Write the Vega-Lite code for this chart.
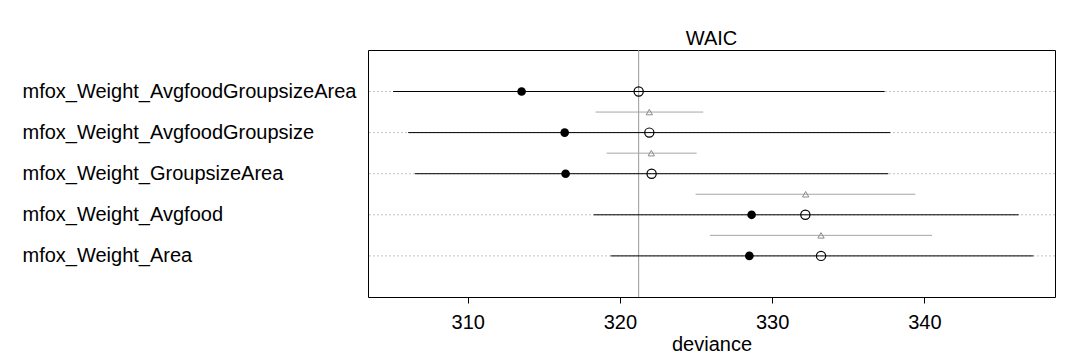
{
  "$schema": "https://vega.github.io/schema/vega-lite/v6.json",
  "width": 687,
  "height": 247,
  "autosize": {"type": "none"},
  "padding": {"left": 368, "top": 50, "right": 25, "bottom": 63},
  "background": "white",
  "config": {
    "font": "Liberation Sans",
    "view": {"stroke": "black", "strokeWidth": 1},
    "axis": {"grid": false, "domain": false, "labelFont": "Liberation Sans", "titleFont": "Liberation Sans"},
    "axisX": {"tickColor": "black", "tickSize": 6, "labelFontSize": 20, "labelColor": "black", "labelPadding": 9, "titleFontSize": 20, "titleFontWeight": "normal", "titleColor": "black", "titlePadding": 2},
    "axisY": {"ticks": false, "tickSize": 0, "labelFontSize": 20, "labelColor": "black", "labelAlign": "left", "labelBaseline": "middle", "labelPadding": 346, "labelLimit": 0, "title": null}
  },
  "title": {"text": "WAIC", "fontSize": 20, "fontWeight": "normal", "color": "black", "offset": -15, "baseline": "alphabetic", "font": "Liberation Sans"},
  "datasets": {
    "models": [
      {"model": "mfox_Weight_AvgfoodGroupsizeArea", "pos": 5, "dev": 313.54, "waic": 321.23, "lo": 305.10, "hi": 337.39},
      {"model": "mfox_Weight_AvgfoodGroupsize", "pos": 4, "dev": 316.37, "waic": 321.93, "lo": 306.09, "hi": 337.76},
      {"model": "mfox_Weight_GroupsizeArea", "pos": 3, "dev": 316.43, "waic": 322.08, "lo": 306.53, "hi": 337.63},
      {"model": "mfox_Weight_Avgfood", "pos": 2, "dev": 328.65, "waic": 332.18, "lo": 318.27, "hi": 346.19},
      {"model": "mfox_Weight_Area", "pos": 1, "dev": 328.50, "waic": 333.21, "lo": 319.39, "hi": 347.16}
    ],
    "diffs": [
      {"pos": 4.5, "waic": 321.93, "lo": 318.40, "hi": 325.47},
      {"pos": 3.5, "waic": 322.06, "lo": 319.13, "hi": 325.04},
      {"pos": 2.5, "waic": 332.20, "lo": 324.97, "hi": 339.41},
      {"pos": 1.5, "waic": 333.21, "lo": 325.91, "hi": 340.50}
    ]
  },
  "layer": [
    {
      "data": {"name": "models"},
      "mark": {"type": "rule", "color": "#c4c4c4", "strokeDash": [2, 2], "strokeWidth": 1},
      "encoding": {
        "y": {"field": "pos", "type": "quantitative", "scale": {"domain": [0, 6.01], "nice": false, "zero": false},
          "axis": {"values": [1, 2, 3, 4, 5], "labelExpr": "datum.value == 5 ? 'mfox_Weight_AvgfoodGroupsizeArea' : datum.value == 4 ? 'mfox_Weight_AvgfoodGroupsize' : datum.value == 3 ? 'mfox_Weight_GroupsizeArea' : datum.value == 2 ? 'mfox_Weight_Avgfood' : 'mfox_Weight_Area'"}}
      }
    },
    {
      "data": {"name": "models"},
      "mark": {"type": "rule", "color": "#9a9a9a", "strokeWidth": 1},
      "encoding": {
        "x": {"aggregate": "min", "field": "waic", "type": "quantitative", "title": "deviance", "scale": {"domain": [303.45, 348.58], "nice": false, "zero": false}, "axis": {"values": [310, 320, 330, 340]}}
      }
    },
    {
      "data": {"name": "diffs"},
      "mark": {"type": "rule", "color": "#a6a6a6", "strokeWidth": 1},
      "encoding": {
        "x": {"field": "lo", "type": "quantitative", "title": "deviance"},
        "x2": {"field": "hi"},
        "y": {"field": "pos", "type": "quantitative"}
      }
    },
    {
      "data": {"name": "diffs"},
      "mark": {"type": "point", "shape": "triangle-up", "filled": false, "stroke": "#8a8a8a", "strokeWidth": 1, "size": 40, "opacity": 1},
      "encoding": {
        "x": {"field": "waic", "type": "quantitative", "title": "deviance"},
        "y": {"field": "pos", "type": "quantitative"}
      }
    },
    {
      "data": {"name": "models"},
      "mark": {"type": "rule", "color": "black", "strokeWidth": 1},
      "encoding": {
        "x": {"field": "lo", "type": "quantitative", "title": "deviance"},
        "x2": {"field": "hi"},
        "y": {"field": "pos", "type": "quantitative"}
      }
    },
    {
      "data": {"name": "models"},
      "mark": {"type": "circle", "color": "black", "size": 75, "opacity": 1},
      "encoding": {
        "x": {"field": "dev", "type": "quantitative", "title": "deviance"},
        "y": {"field": "pos", "type": "quantitative"}
      }
    },
    {
      "data": {"name": "models"},
      "mark": {"type": "point", "shape": "circle", "filled": false, "stroke": "black", "fill": "white", "fillOpacity": 0, "strokeWidth": 1.2, "size": 85, "opacity": 1},
      "encoding": {
        "x": {"field": "waic", "type": "quantitative", "title": "deviance"},
        "y": {"field": "pos", "type": "quantitative"}
      }
    }
  ]
}
